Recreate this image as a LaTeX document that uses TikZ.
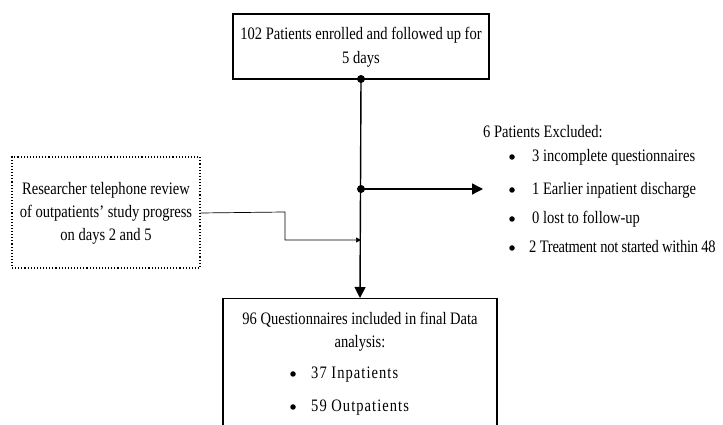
\documentclass[tikz,border=0pt]{standalone}
\usepackage{fontspec}
\setmainfont{Liberation Serif}[FakeStretch=0.83]
\usetikzlibrary{arrows.meta}
\begin{document}
\begin{tikzpicture}[x=1pt,y=1pt,
  box/.style={draw, line width=1.3pt, inner sep=0pt},
  txt/.style={inner sep=0pt, font=\fontsize{17.5}{18}\selectfont},
  bul/.style={circle, fill, inner sep=0pt, minimum size=5.5pt},
  dot/.style={circle, fill, inner sep=0pt, minimum size=8pt},
  main/.style={line width=1.4pt, -{Triangle[length=11pt,width=11pt]}},
  side/.style={line width=0.7pt, -{Triangle[length=5pt,width=5pt]}}]
\useasboundingbox (0,0) rectangle (723,425);
\clip (0,0) rectangle (723,425);
% top box
\node[box, minimum width=256pt, minimum height=65pt] (top) at (361,378.5) {};
\node[txt] (t1) at (361,390) {102 Patients enrolled and followed up for};
\node[txt] (t2) at (361,366) {5 days};
% bottom box
\node[box, minimum width=274pt, minimum height=160pt, anchor=north] (final) at (360,127) {};
\node[txt] (f1) at (360,105) {96 Questionnaires included in final Data};
\node[txt] (f2) at (360,82) {analysis:};
\node[bul] (fb1) at (293,51) {};
\node[txt, anchor=base west] (f3) at (311,46) {\addfontfeatures{LetterSpace=6}37 Inpatients};
\node[bul] (fb2) at (293,18) {};
\node[txt, anchor=base west] (f4) at (311,13) {\addfontfeatures{LetterSpace=6}59 Outpatients};
% dotted box
\node[draw, dotted, line width=1.1pt, minimum width=188pt, minimum height=111pt] (rev) at (106,212.5) {};
\node[txt] (r1) at (106,235) {Researcher telephone review};
\node[txt] (r2) at (106,212) {of outpatients' study progress};
\node[txt] (r3) at (106,189) {on days 2 and 5};
% junctions
\coordinate (j1) at (361,346);
\coordinate (j2) at (361,236);
\coordinate (j3) at (361,185);
\coordinate (ex) at (483,236);
\node[dot] (d1) at (j1) {};
\node[dot] (d2) at (j2) {};
% exclusion text
\node[txt, anchor=west] (e0) at (483,293) {6 Patients Excluded:};
\node[bul] (eb1) at (512,268) {};
\node[txt, anchor=base west] (e1) at (532,263) {3 incomplete questionnaires};
\node[bul] (eb2) at (512,235) {};
\node[txt, anchor=base west] (e2) at (532,230) {1 Earlier inpatient discharge};
\node[bul] (eb3) at (512,206) {};
\node[txt, anchor=base west] (e3) at (532,201) {0 lost to follow-up};
\node[bul] (eb4) at (512,177) {};
\node[txt, anchor=base west] (e4) at (529,172) {\addfontfeatures{LetterSpace=-1.5}2 Treatment not started within 48};
% connectors
\draw[main] (top.south) -- (final.north);
\draw[main] (d2.center) -- (ex);
\draw[side] (rev.east |- r2) -- (285,213) -- (285,185) -- (j3);
\end{tikzpicture}
\end{document}
